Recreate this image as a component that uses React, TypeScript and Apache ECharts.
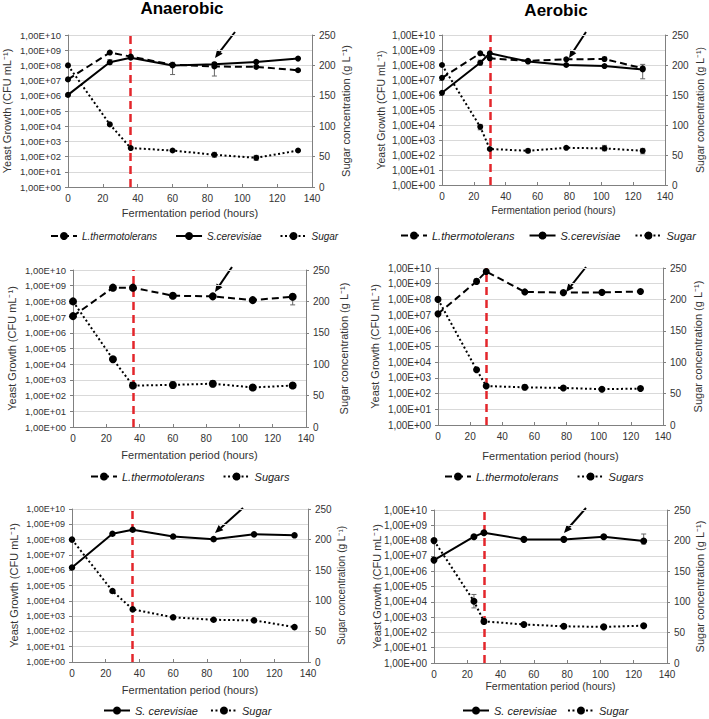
import React, { useEffect, useRef } from 'react';
import * as echarts from 'echarts';

// ---------- DATA ----------
const hoursAnaerobic = [0, 24, 36, 60, 84, 108, 132];
const hoursAerobic = [0, 24, 30, 54, 78, 102, 126];

const yLeftTicks = ['1,00E+00', '1,00E+01', '1,00E+02', '1,00E+03', '1,00E+04', '1,00E+05', '1,00E+06', '1,00E+07', '1,00E+08', '1,00E+09', '1,00E+10'];

// Panel 1: Anaerobic, co-culture
const p1Lt = [1.2e7, 7e8, 3.8e8, 1.1e8, 8.5e7, 8e7, 4.8e7];
const p1Sc = [1.15e6, 1.6e8, 3.2e8, 1e8, 1.2e8, 1.7e8, 2.8e8];
const p1Sugar = [200, 103, 64, 60, 53, 48, 60];
const p1LtErr = [[60, 2.5e7, 1.6e8], [84, 2e7, 1.5e8]];
const p1ScErr = [[24, 1.2e8, 2.4e8]];
const p1SugarErr = [[84, 49, 57], [108, 44, 52]];

// Panel 2: Aerobic, co-culture
const p2Lt = [1.4e7, 6e8, 2.8e8, 1.9e8, 2.4e8, 2.5e8, 6e7];
const p2Sc = [1.4e6, 1.4e8, 6e8, 1.7e8, 1e8, 8.5e7, 5e7];
const p2Sugar = [200, 97, 60, 57, 62, 61, 57];
const p2LtErr = [[126, 1.2e7, 1.1e8], [102, 1.9e8, 3.4e8]];
const p2ScErr = [[24, 1e8, 2.1e8]];
const p2SugarErr = [[24, 92, 101], [54, 54, 60], [102, 57, 66], [126, 52, 61]];

// Panel 3: Anaerobic, L. thermotolerans
const p3Lt = [1.15e7, 7.5e8, 7.5e8, 2.3e8, 2.1e8, 1.2e8, 2e8];
const p3Sugar = [200, 108, 66, 67, 69, 63, 66];
const p3LtErr = [[132, 6e7, 2.8e8]];
const p3SugarErr = [[60, 62, 72], [84, 64, 74]];

// Panel 4: Aerobic, L. thermotolerans
const p4Lt = [1.2e7, 1.4e9, 6e9, 3e8, 2.7e8, 2.8e8, 3.2e8];
const p4Sugar = [200, 88, 62, 60, 59, 57, 58];
const p4LtErr = [[24, 1e9, 2e9]];
const p4SugarErr = [[54, 56, 64]];

// Panel 5: Anaerobic, S. cerevisiae
const p5Sc = [1.5e6, 2.4e8, 4.4e8, 1.6e8, 1.07e8, 2.2e8, 1.9e8];
const p5Sugar = [200, 116, 86, 73, 69, 68, 57];

// Panel 6: Aerobic, S. cerevisiae
const p6Sc = [5.3e6, 1.8e8, 3.3e8, 1.2e8, 1.2e8, 1.8e8, 9.3e7];
const p6Sugar = [200, 101, 68, 63, 60, 59, 61];
const p6ScErr = [[126, 6e7, 2.7e8]];
const p6SugarErr = [[24, 90, 112], [30, 64, 72], [78, 57, 63]];

const switchAnaerobic = 35.5;
const switchAerobic = 30;

// ---------- STYLE / LAYOUT ----------
const FONT = '"Liberation Sans", Arial, sans-serif';
const DASH_LT = [7, 4];
const DASH_SUGAR = [2, 2.5];

type Line = { name: string; x: number[]; y: number[]; sugar?: boolean; dash: any; err?: number[][] };
type Panel = {
  pos: [number, number, number, number];
  grid: { left: number; top: number; width: number; height: number };
  lines: Line[];
  legend: string[];
  legendLeft: number;
  legendTop: number;
  legendFont: number;
  legendGap: number;
  sym: number;
  redX: number;
  arrow: [number, number, number, number];
  title?: { text: string; x: number; y: number };
  leftGap: number;
  rightGap: number;
  xGap: number;
  nameFont: number;
  rightNameFont: number;
  xNameFont: number;
  tickFont: number;
};

const panels: Panel[] = [
  {
    pos: [0, 0, 354, 250], grid: { left: 68, top: 35, width: 244, height: 152 },
    lines: [
      { name: 'L.thermotolerans', x: hoursAnaerobic, y: p1Lt, dash: DASH_LT, err: p1LtErr },
      { name: 'S.cerevisiae', x: hoursAnaerobic, y: p1Sc, dash: 'solid', err: p1ScErr },
      { name: 'Sugar', x: hoursAnaerobic, y: p1Sugar, sugar: true, dash: DASH_SUGAR, err: p1SugarErr },
    ],
    legend: ['L.thermotolerans', 'S.cerevisiae', 'Sugar'], legendLeft: 50, legendTop: 231, legendFont: 10, legendGap: 18,
    sym: 6, redX: switchAnaerobic, arrow: [235, 32, 215, 58], title: { text: 'Anaerobic', x: 182, y: 8 },
    leftGap: 56, rightGap: 28, xGap: 20, nameFont: 11, rightNameFont: 11, xNameFont: 11, tickFont: 9.5,
  },
  {
    pos: [354, 0, 355, 250], grid: { left: 88, top: 35, width: 223, height: 150 },
    lines: [
      { name: 'L.thermotolerans', x: hoursAerobic, y: p2Lt, dash: DASH_LT, err: p2LtErr },
      { name: 'S.cerevisiae', x: hoursAerobic, y: p2Sc, dash: 'solid', err: p2ScErr },
      { name: 'Sugar', x: hoursAerobic, y: p2Sugar, sugar: true, dash: DASH_SUGAR, err: p2SugarErr },
    ],
    legend: ['L.thermotolerans', 'S.cerevisiae', 'Sugar'], legendLeft: 46, legendTop: 230, legendFont: 11, legendGap: 14,
    sym: 6, redX: switchAerobic, arrow: [232, 32, 215, 58], title: { text: 'Aerobic', x: 202, y: 10 },
    leftGap: 56, rightGap: 29, xGap: 20, nameFont: 10.5, rightNameFont: 10.5, xNameFont: 10, tickFont: 10,
  },
  {
    pos: [0, 240, 354, 250], grid: { left: 73, top: 30, width: 233, height: 157 },
    lines: [
      { name: 'L.thermotolerans', x: hoursAnaerobic, y: p3Lt, dash: DASH_LT, err: p3LtErr },
      { name: 'Sugars', x: hoursAnaerobic, y: p3Sugar, sugar: true, dash: DASH_SUGAR, err: p3SugarErr },
    ],
    legend: ['L.thermotolerans', 'Sugars'], legendLeft: 90, legendTop: 231, legendFont: 11, legendGap: 18,
    sym: 8, redX: 36, arrow: [232, 27, 215, 52],
    leftGap: 56, rightGap: 32, xGap: 22, nameFont: 11, rightNameFont: 11, xNameFont: 11, tickFont: 9.5,
  },
  {
    pos: [354, 240, 355, 250], grid: { left: 84, top: 28, width: 225, height: 157 },
    lines: [
      { name: 'L.thermotolerans', x: hoursAerobic, y: p4Lt, dash: DASH_LT, err: p4LtErr },
      { name: 'Sugars', x: hoursAerobic, y: p4Sugar, sugar: true, dash: DASH_SUGAR, err: p4SugarErr },
    ],
    legend: ['L.thermotolerans', 'Sugars'], legendLeft: 90, legendTop: 231, legendFont: 11, legendGap: 18,
    sym: 7, redX: switchAerobic, arrow: [232, 27, 212, 52],
    leftGap: 58, rightGap: 29, xGap: 25, nameFont: 11, rightNameFont: 11, xNameFont: 11, tickFont: 10,
  },
  {
    pos: [0, 480, 354, 239], grid: { left: 72, top: 29, width: 236, height: 153 },
    lines: [
      { name: 'S. cerevisiae', x: hoursAnaerobic, y: p5Sc, dash: 'solid' },
      { name: 'Sugar', x: hoursAnaerobic, y: p5Sugar, sugar: true, dash: DASH_SUGAR },
    ],
    legend: ['S. cerevisiae', 'Sugar'], legendLeft: 103, legendTop: 225, legendFont: 11, legendGap: 12,
    sym: 6.5, redX: switchAnaerobic, arrow: [243, 28, 215, 53],
    leftGap: 53, rightGap: 28, xGap: 22, nameFont: 11, rightNameFont: 10, xNameFont: 11, tickFont: 9,
  },
  {
    pos: [354, 480, 355, 239], grid: { left: 80, top: 30, width: 233, height: 153 },
    lines: [
      { name: 'S. cerevisiae', x: hoursAerobic, y: p6Sc, dash: 'solid', err: p6ScErr },
      { name: 'Sugar', x: hoursAerobic, y: p6Sugar, sugar: true, dash: DASH_SUGAR, err: p6SugarErr },
    ],
    legend: ['S. cerevisiae', 'Sugar'], legendLeft: 108, legendTop: 225, legendFont: 11, legendGap: 10,
    sym: 7, redX: switchAerobic, arrow: [232, 28, 210, 53],
    leftGap: 52, rightGap: 27, xGap: 17, nameFont: 11, rightNameFont: 11, xNameFont: 10.5, tickFont: 10,
  },
];

function arrowGraphic(tx: number, ty: number, hx: number, hy: number) {
  const ang = Math.atan2(hy - ty, hx - tx);
  const L = 8, W = 3.5;
  const bx = hx - L * Math.cos(ang), by = hy - L * Math.sin(ang);
  const px = -Math.sin(ang), py = Math.cos(ang);
  return [
    { type: 'line', shape: { x1: tx, y1: ty, x2: bx, y2: by }, style: { stroke: '#000', lineWidth: 2 }, silent: true },
    { type: 'polygon', shape: { points: [[hx, hy], [bx + px * W, by + py * W], [bx - px * W, by - py * W]] }, style: { fill: '#000' }, silent: true },
  ];
}

function errSeries(bars: number[][], sugar: boolean) {
  return {
    type: 'custom',
    yAxisIndex: sugar ? 1 : 0,
    silent: true,
    z: 2,
    data: bars.map((b) => (sugar ? b : [b[0], Math.log10(b[1]), Math.log10(b[2])])),
    encode: { x: 0, y: [1, 2] },
    renderItem: (_params: any, api: any) => {
      const x = api.value(0);
      const lo = api.coord([x, api.value(1)]);
      const hi = api.coord([x, api.value(2)]);
      const w = 2.5;
      const style = { stroke: '#666', lineWidth: 1 };
      return {
        type: 'group',
        children: [
          { type: 'line', shape: { x1: lo[0], y1: lo[1], x2: hi[0], y2: hi[1] }, style },
          { type: 'line', shape: { x1: lo[0] - w, y1: lo[1], x2: lo[0] + w, y2: lo[1] }, style },
          { type: 'line', shape: { x1: hi[0] - w, y1: hi[1], x2: hi[0] + w, y2: hi[1] }, style },
        ],
      };
    },
  };
}

function buildOption(p: Panel) {
  const series: any[] = [];
  p.lines.forEach((l, idx) => {
    const s: any = {
      type: 'line',
      name: l.name,
      yAxisIndex: l.sugar ? 1 : 0,
      data: l.x.map((x, i) => [x, l.sugar ? l.y[i] : Math.log10(l.y[i])]),
      symbol: 'circle',
      symbolSize: p.sym,
      showSymbol: true,
      itemStyle: { color: '#000' },
      lineStyle: { color: '#000', width: 2, type: l.dash },
      z: 3,
    };
    if (idx === p.lines.length - 1) {
      s.markLine = {
        silent: true,
        symbol: ['none', 'none'],
        label: { show: false },
        lineStyle: { color: '#e3262b', width: 2.5, type: [8, 5] },
        data: [{ xAxis: p.redX }],
        z: 1,
      };
    }
    series.push(s);
    if (l.err) series.push(errSeries(l.err, !!l.sugar));
  });

  const graphic: any[] = [...arrowGraphic(...p.arrow)];
  if (p.title) {
    graphic.push({
      type: 'text',
      x: p.title.x,
      y: p.title.y,
      style: {
        text: p.title.text,
        font: `bold 17px ${FONT}`,
        fill: '#000',
        align: 'center',
        verticalAlign: 'middle',
        textAlign: 'center',
        textVerticalAlign: 'middle',
      },
    });
  }

  return {
    animation: false,
    backgroundColor: 'transparent',
    textStyle: { fontFamily: FONT },
    grid: { ...p.grid, containLabel: false, outerBoundsMode: 'none' },
    legend: {
      data: p.legend,
      left: p.legendLeft,
      top: p.legendTop,
      width: 330,
      padding: 0,
      itemWidth: 26,
      itemHeight: 10,
      itemGap: p.legendGap,
      selectedMode: false,
      textStyle: { fontStyle: 'italic', fontSize: p.legendFont, color: '#222', fontFamily: FONT },
    },
    xAxis: {
      type: 'value',
      min: 0,
      max: 140,
      interval: 20,
      axisLine: { show: true, onZero: false, lineStyle: { color: '#808080', width: 1 } },
      axisTick: { show: true, inside: true, length: 3, lineStyle: { color: '#808080' } },
      axisLabel: { color: '#333', fontSize: 10, margin: 6, fontFamily: FONT },
      splitLine: { show: false },
      name: 'Fermentation period (hours)',
      nameLocation: 'middle',
      nameGap: p.xGap,
      nameMoveOverlap: false,
      nameTextStyle: { fontSize: p.xNameFont, color: '#333', fontFamily: FONT },
    },
    yAxis: [
      {
        type: 'value',
        min: 0,
        max: 10,
        interval: 1,
        position: 'left',
        axisLine: { show: true, lineStyle: { color: '#808080', width: 1 } },
        axisTick: { show: true, length: 3, lineStyle: { color: '#808080' } },
        axisLabel: {
          color: '#333',
          fontSize: p.tickFont,
          margin: 7,
          fontFamily: FONT,
          formatter: (v: number) => yLeftTicks[Math.round(v)] ?? '',
        },
        splitLine: { show: true, lineStyle: { color: '#d9d9d9', width: 1 } },
        name: 'Yeast Growth (CFU mL\u207B\u00B9)',
        nameLocation: 'middle',
        nameGap: p.leftGap,
        nameMoveOverlap: false,
        nameTextStyle: { fontSize: p.nameFont, color: '#333', fontFamily: FONT },
      },
      {
        type: 'value',
        min: 0,
        max: 250,
        interval: 50,
        position: 'right',
        axisLine: { show: true, lineStyle: { color: '#808080', width: 1 } },
        axisTick: { show: true, length: 3, lineStyle: { color: '#808080' } },
        axisLabel: { color: '#333', fontSize: 10, margin: 7, fontFamily: FONT },
        splitLine: { show: false },
        name: 'Sugar concentration (g L\u207B\u00B9)',
        nameLocation: 'middle',
        nameGap: p.rightGap,
        nameMoveOverlap: false,
        nameTextStyle: { fontSize: p.rightNameFont, color: '#333', fontFamily: FONT },
      },
    ],
    graphic,
    series,
  };
}

function ChartPanel({ p }: { p: Panel }) {
  const ref = useRef<HTMLDivElement>(null);
  useEffect(() => {
    if (!ref.current) return;
    const chart = echarts.init(ref.current, undefined, { renderer: 'svg' });
    chart.setOption(buildOption(p) as any);
    return () => chart.dispose();
  }, [p]);
  const [x, y, w, h] = p.pos;
  return <div ref={ref} style={{ position: 'absolute', left: x, top: y, width: w, height: h }} />;
}

export default function App() {
  return (
    <div style={{ position: 'absolute', left: 0, top: 0, width: 709, height: 719, background: '#fff', overflow: 'hidden' }}>
      {panels.map((p, i) => (
        <ChartPanel key={i} p={p} />
      ))}
    </div>
  );
}
